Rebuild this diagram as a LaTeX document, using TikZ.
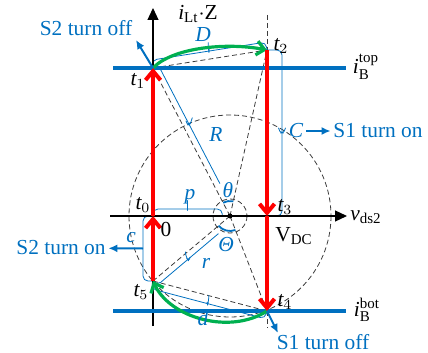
\documentclass[tikz,border=0pt]{standalone}
\usepackage{amsmath}
\usepackage{fontspec}
\setmainfont{Liberation Serif}
\usepackage{tikz}
\usetikzlibrary{arrows.meta,calc}
\definecolor{zvblue}{RGB}{0,112,192}
\definecolor{zvred}{RGB}{255,0,0}
\definecolor{zvgreen}{RGB}{0,176,80}
\definecolor{zvgrid}{RGB}{60,60,60}
\tikzset{
  axis/.style={-{Triangle[length=6pt,width=5.5pt]}, draw=black, line width=0.6pt},
  rail/.style={draw=zvblue, line width=1.7pt},
  jump/.style={-{Straight Barb[length=4.5pt,width=7.5pt]}, draw=zvred, line width=2pt},
  swing/.style={-{Straight Barb[length=4pt,width=7pt]}, draw=zvgreen, line width=1.6pt},
  guide/.style={draw=zvgrid, line width=0.4pt, dash pattern=on 2.5pt off 1.5pt},
  dim/.style={draw=zvblue, line width=0.4pt, rounded corners=2.5pt},
  tick/.style={
    draw=zvblue, line width=0.4pt, shape=rectangle, sloped,
    minimum width=0pt, minimum height=3.5pt, inner sep=0pt
  },
  ang/.style={draw=zvblue, line width=0.9pt},
  sw/.style={-{Latex[length=4.5pt,width=4pt]}, draw=zvblue, line width=1pt},
  lbl/.style={font=\fontsize{10.7}{12}\selectfont, inner sep=1.2pt},
  blbl/.style={lbl, text=zvblue},
  every picture/.append style={line join=round}
}

\begin{document}
\begin{tikzpicture}[x=0.5pt, y=-0.5pt]
  \useasboundingbox (0,0) rectangle (428,353);
  % switching points, pixel grid with y downwards
  \coordinate (t0) at (153,216);
  \coordinate (t1) at (153,68);
  \coordinate (t2) at (267,50);
  \coordinate (t3) at (267,216);
  \coordinate (t4) at (267,311);
  \coordinate (t5) at (153,281);
  \coordinate (cc) at (230,216);
  \coordinate (vtop) at (153,8);
  \coordinate (vbot) at (153,326);
  \coordinate (hleft) at (110,216);
  \coordinate (hright) at (347,216);
  \coordinate (rtl) at (113,68);
  \coordinate (rtr) at (346,68);
  \coordinate (rbl) at (113,311);
  \coordinate (rbr) at (346,311);
  \coordinate (gtop) at (267,15);
  \coordinate (gbot) at (267,328);
  \coordinate (s2off) at (136,40);
  \coordinate (s1off) at (278,333);

  % construction lines
  \draw[guide] (cc) circle[radius=101];
  \draw[guide] (cc) circle[radius=17];
  \draw[guide] (cc) -- (t1);
  \draw[guide] (cc) -- (t2);
  \draw[guide] (cc) -- (t4);
  \draw[guide] (cc) -- (t5);
  \draw[guide] (t1) -- (t2);
  \draw[guide] (t5) -- (t4);
  \draw[guide] (gtop) -- (t2);
  \draw[guide] (t4) -- (gbot);

  % dimension brackets
  \draw[dim] (t1) -- ($(t1)!4pt!90:(t2)$) -- node[tick]{} ($(t2)!4pt!-90:(t1)$) -- (t2);
  \draw[dim] (t1) -- ($(t1)!3pt!90:(cc)$) -- node[tick]{} ($(t1)!0.8!(cc)!3pt!-90:(t1)$);
  \draw[dim] (t2) -- ($(t2)!7.5pt!90:(t3)$) -- node[tick]{} ($(t3)!7.5pt!-90:(t2)$) -- (t3);
  \draw[dim] (t0) -- ($(t0)!3.5pt!90:(cc)$) -- node[tick]{} ($(t0)!0.9!(cc)!3.5pt!-90:(t0)$) -- ($(t0)!0.9!(cc)$);
  \draw[dim] (t0) -- ($(t0)!5pt!-90:(t5)$) -- coordinate[midway] (cm) ($(t5)!5pt!90:(t0)$) -- (t5);
  \draw[dim] (t5) -- ($(t5)!3pt!-90:(cc)$) -- node[tick]{} ($(t5)!0.8!(cc)!3pt!90:(t5)$);
  \draw[dim] (t5) -- ($(t5)!4pt!-90:(t4)$) -- node[tick]{} ($(t4)!4pt!90:(t5)$) -- (t4);
  \draw[ang] (cc) ++(-117.5:15) arc[start angle=-117.5, end angle=-77.4, radius=15];
  \draw[ang] (cc) ++(68.7:15) arc[start angle=68.7, end angle=139.8, radius=15];

  \draw[axis] (vbot) -- (vtop);
  \draw[axis] (hleft) -- (hright);
  \fill (cc) circle[radius=2.5];
  \draw[rail] (rtl) -- (rtr);
  \draw[rail] (rbl) -- (rbr);

  \draw[swing] (t1) .. controls (172,48) and (225,42) .. (t2);
  \draw[swing] (t4) .. controls (230,335) and (170,318) .. (t5);
  \draw[jump] (t5) -- (t0);
  \draw[jump] (t0) -- (t1);
  \draw[jump] (t2) -- (t3);
  \draw[jump] (t3) -- (t4);

  % labels
  \node[lbl] (lt0) at (143,205) {$\mathit{t}_0$};
  \node[lbl] (lt1) at (138,81) {$\mathit{t}_1$};
  \node[lbl] (lt2) at (281,46) {$\mathit{t}_2$};
  \node[lbl] (lt3) at (285,207) {$\mathit{t}_3$};
  \node[lbl] (lt4) at (285,302) {$\mathit{t}_4$};
  \node[lbl] (lt5) at (141,292) {$\mathit{t}_5$};
  \node[lbl] (lzero) at (166,229) {0};
  \node[lbl] (lvdc) at (294,236) {V$_{\mathrm{DC}}$};
  \node[lbl] (lvds) at (366,217) {$\mathit{v}_{\mathrm{ds2}}$};
  \node[lbl] (lilt) at (198,14) {$\mathit{i}_{\mathrm{Lt}}{\cdot}\mathrm{Z}$};
  \node[lbl] (libt) at (366,67) {$\mathit{i}_{\mathrm{B}}^{\mathrm{top}}$};
  \node[lbl] (libb) at (367,310) {$\mathit{i}_{\mathrm{B}}^{\mathrm{bot}}$};

  \node[blbl] (lD) at (203,35) {\textit{D}};
  \node[blbl] (lR) at (216,134) {\textit{R}};
  \node[blbl] (lth) at (228,190) {\textit{θ}};
  \node[blbl] (lp) at (190,197) {\textit{p}};
  \node[blbl] (lc) at (131,238) {\textit{c}};
  \node[blbl] (lTh) at (226,245) {\textit{Θ}};
  \node[blbl] (lr) at (206,263) {\textit{r}};
  \node[blbl] (ld) at (203,318) {\textit{d}};
  \node[blbl] (lC) at (296,131) {\textit{C}};

  \node[blbl] (ls2off) at (86,28) {S2 turn off};
  \node[blbl] (ls1on) at (378,131) {S1 turn on};
  \node[blbl] (ls2on) at (61,248) {S2 turn on};
  \node[blbl] (ls1off) at (323,342) {S1 turn off};

  \draw[sw] (t1) -- (s2off);
  \draw[sw] (t4) -- (s1off);
  \draw[sw] (cm) -- (ls2on);
  \draw[sw] (lC) -- (ls1on);
\end{tikzpicture}
\end{document}
